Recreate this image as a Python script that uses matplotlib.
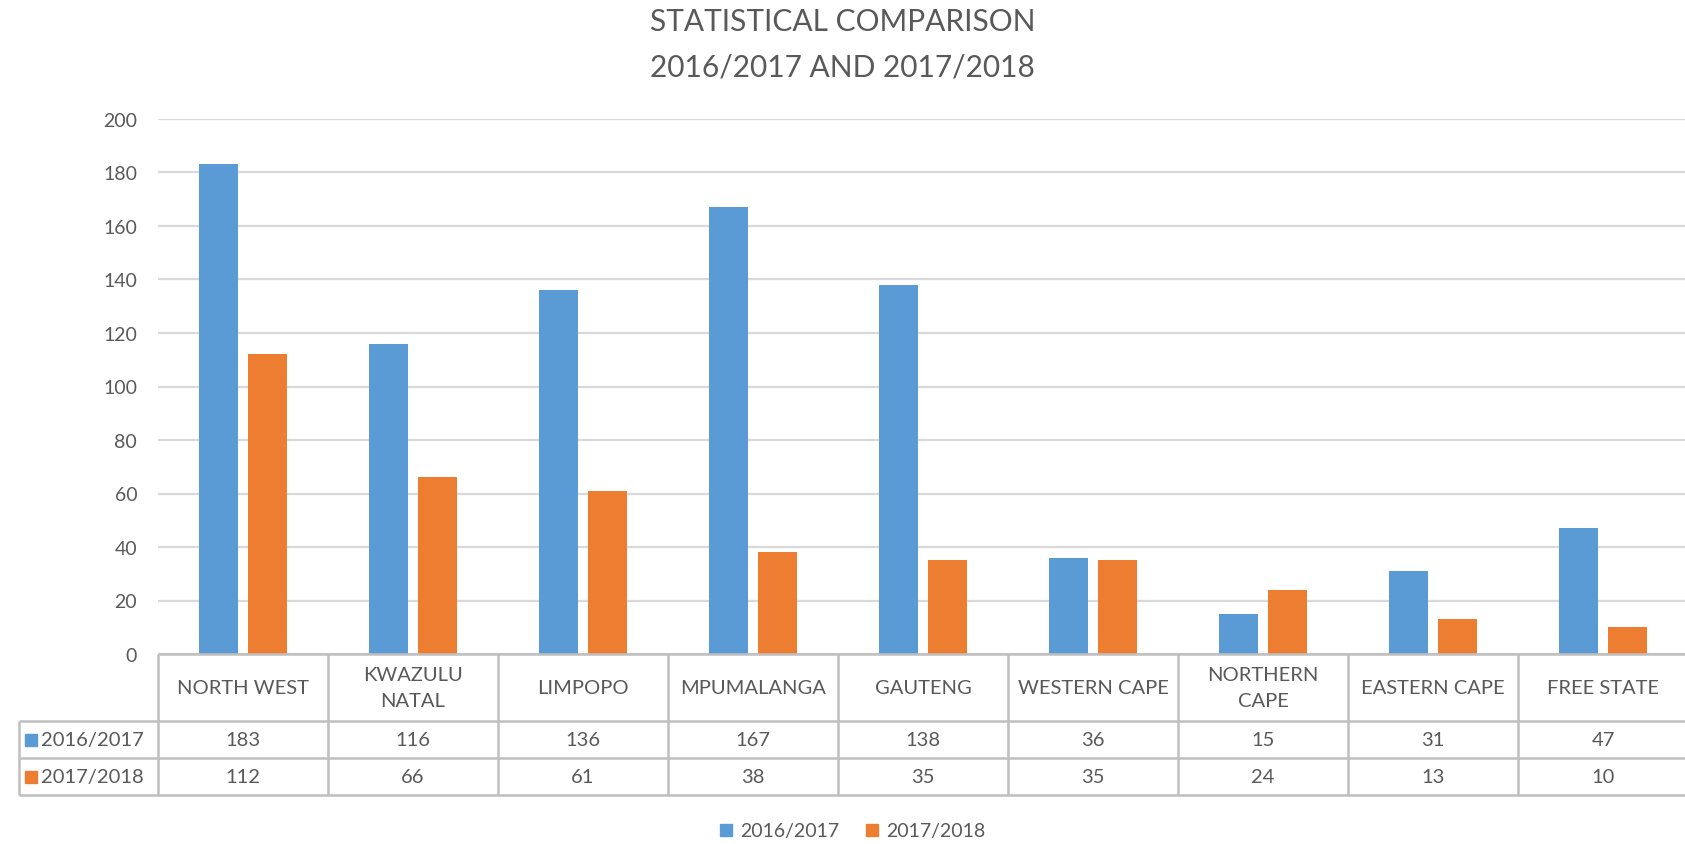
import numpy as np
import matplotlib.pyplot as plt
from matplotlib.lines import Line2D

plt.rcParams['font.family'] = ['Lato', 'DejaVu Sans']

provinces = ['NORTH WEST', 'KWAZULU\nNATAL', 'LIMPOPO', 'MPUMALANGA', 'GAUTENG',
             'WESTERN CAPE', 'NORTHERN\nCAPE', 'EASTERN CAPE', 'FREE STATE']
series = ['2016/2017', '2017/2018']
vals_1617 = [183, 116, 136, 167, 138, 36, 15, 31, 47]
vals_1718 = [112, 66, 61, 38, 35, 35, 24, 13, 10]
colors = ['#5B9BD5', '#ED7D31']

TXT = '#595959'
GRID = '#D9D9D9'
LINE = '#BFBFBF'

W, H = 1685, 845
fig = plt.figure(figsize=(W / 100, H / 100), dpi=100)

# main plot area in pixel terms
x0, x1 = 158, 1688
y_top, y_zero, y_bot = 120, 655, 796
ax = fig.add_axes([x0 / W, 1 - y_zero / H, (x1 - x0) / W, (y_zero - y_top) / H])
tab = fig.add_axes([x0 / W, 1 - y_bot / H, (x1 - x0) / W, (y_bot - y_zero) / H], sharex=ax)

x = np.arange(len(provinces))
bw = 0.228
off = 0.142
ax.bar(x - off, vals_1617, bw, color=colors[0], zorder=3)
ax.bar(x + off, vals_1718, bw, color=colors[1], zorder=3)

ax.set_xlim(-0.5, len(provinces) - 0.5)
ax.set_ylim(0, 200)
ax.set_yticks(range(0, 201, 20))
ax.grid(axis='y', color=GRID, lw=1.6, zorder=0)
ax.tick_params(axis='y', length=0, pad=15, labelsize=14, labelcolor=TXT)
ax.tick_params(axis='x', length=0, labelbottom=False)
for s in ax.spines.values():
    s.set_visible(False)

# data table under the chart
row_edges = [0, 67, 104, 141]
tab.set_ylim(row_edges[-1], 0)
tab.axis('off')
label_left = -0.5 - (x0 - 19) / ((x1 - x0) / len(provinces))
right = len(provinces) - 0.5
lkw = dict(color=LINE, lw=1.8, clip_on=False, solid_capstyle='butt')

# horizontal lines
tab.plot([-0.5, right], [0, 0], **lkw)
for yy in row_edges[1:]:
    tab.plot([label_left, right], [yy, yy], **lkw)
# vertical lines
for b in np.arange(-0.5, right + 0.01, 1.0):
    tab.plot([b, b], [0, row_edges[-1]], **lkw)
tab.plot([label_left, label_left], [row_edges[1], row_edges[-1]], **lkw)

fs = 14.5
for i, p in enumerate(provinces):
    tab.text(i, (row_edges[0] + row_edges[1]) / 2, p, ha='center', va='center',
             fontsize=fs, color=TXT, linespacing=1.7)
    tab.text(i, (row_edges[1] + row_edges[2]) / 2, str(vals_1617[i]), ha='center',
             va='center', fontsize=fs, color=TXT)
    tab.text(i, (row_edges[2] + row_edges[3]) / 2, str(vals_1718[i]), ha='center',
             va='center', fontsize=fs, color=TXT)

for r, (name, c) in enumerate(zip(series, colors)):
    yc = (row_edges[r + 1] + row_edges[r + 2]) / 2
    tab.plot([label_left + 0.07], [yc], marker='s', ms=9, color=c, clip_on=False, ls='none')
    tab.text(label_left + 0.13, yc, name, ha='left', va='center', fontsize=fs, color=TXT)

fig.text(0.5, 1 - 45 / H, 'STATISTICAL COMPARISON\n2016/2017 AND 2017/2018',
         ha='center', va='center', fontsize=21.5, color=TXT, linespacing=1.75)

handles = [Line2D([], [], marker='s', ls='none', ms=9, color=c) for c in colors]
fig.legend(handles, series, loc='center', bbox_to_anchor=(0.505, 1 - 832 / H),
           ncol=2, frameon=False, fontsize=14, labelcolor=TXT,
           handletextpad=0.2, columnspacing=1.2, handlelength=1.0)

fig.savefig('out.png', dpi=100)
